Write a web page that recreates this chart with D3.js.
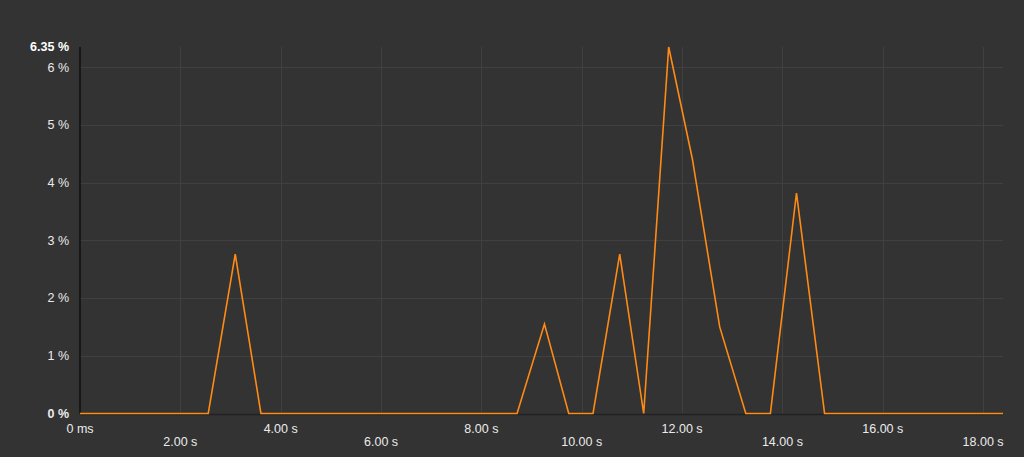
<!DOCTYPE html>
<html>
<head>
<meta charset="utf-8">
<script src="https://cdn.jsdelivr.net/npm/d3@7"></script>
<style>
html,body{margin:0;padding:0;background:#333333;}
svg{display:block;}
text{font-family:"Liberation Sans",Arial,Helvetica,sans-serif;}
</style>
</head>
<body>
<svg id="chart" width="1024" height="457"></svg>
<script>
const times = [0, 0.511, 1.022, 1.533, 2.044, 2.556, 3.094, 3.606, 4.088, 4.599, 5.110, 5.621, 6.132, 6.643, 7.154, 7.665, 8.176, 8.711, 9.257, 9.741, 10.225, 10.757, 11.235, 11.733, 12.205, 12.750, 13.270, 13.760, 14.280, 14.840, 15.330, 15.841, 16.352, 16.863, 17.374, 17.885, 18.396];
const values = [0, 0, 0, 0, 0, 0, 2.76, 0, 0, 0, 0, 0, 0, 0, 0, 0, 0, 0, 1.55, 0, 0, 2.76, 0, 6.35, 4.41, 1.50, 0, 0, 3.82, 0, 0, 0, 0, 0, 0, 0, 0];
const xTicks = [0, 2, 4, 6, 8, 10, 12, 14, 16, 18];
const xTickLabels = ["0 ms", "2.00 s", "4.00 s", "6.00 s", "8.00 s", "10.00 s", "12.00 s", "14.00 s", "16.00 s", "18.00 s"];
const yTicks = [0, 1, 2, 3, 4, 5, 6];
const yTickLabels = ["0 %", "1 %", "2 %", "3 %", "4 %", "5 %", "6 %"];
const yMax = 6.35;
const yMaxLabel = "6.35 %";

(function () {
const svg = d3.select("#chart");
const mLeft = 80, mRight = 1003, mTop = 47, mBottom = 413.5;
const x = d3.scaleLinear().domain([0, times[times.length - 1]]).range([mLeft, mRight]);
const y = d3.scaleLinear().domain([0, yMax]).range([mBottom, mTop]);

const grid = svg.append("g");
grid.selectAll("line.h").data(yTicks.slice(1)).enter().append("line")
  .attr("x1", mLeft).attr("x2", mRight)
  .attr("y1", d => Math.round(y(d)) + 0.5).attr("y2", d => Math.round(y(d)) + 0.5)
  .attr("stroke", "#404040").attr("stroke-width", 1);
grid.selectAll("line.v").data(xTicks.slice(1)).enter().append("line")
  .attr("x1", d => Math.round(x(d)) + 0.5).attr("x2", d => Math.round(x(d)) + 0.5)
  .attr("y1", mTop).attr("y2", mBottom)
  .attr("stroke", "#404040").attr("stroke-width", 1);

svg.append("line").attr("x1", mLeft).attr("x2", mRight).attr("y1", mBottom + 1).attr("y2", mBottom + 1)
  .attr("stroke", "#222").attr("stroke-width", 1.5);
svg.append("line").attr("x1", mLeft).attr("x2", mLeft).attr("y1", mTop).attr("y2", mBottom)
  .attr("stroke", "#111").attr("stroke-width", 1.5);

const yl = svg.append("g");
yl.selectAll("text").data(yTicks).enter().append("text")
  .attr("x", 69).attr("y", d => y(d)).attr("dy", "0.35em")
  .attr("text-anchor", "end").attr("fill", "#ebebeb")
  .attr("font-size", 12.5).attr("font-weight", d => d === 0 ? "bold" : "normal")
  .text((d, i) => yTickLabels[i]);
yl.append("text").attr("x", 69).attr("y", y(yMax)).attr("dy", "0.35em")
  .attr("text-anchor", "end").attr("fill", "#ffffff")
  .attr("font-size", 12.5).attr("font-weight", "bold").text(yMaxLabel);

svg.append("g").selectAll("text").data(xTicks).enter().append("text")
  .attr("x", d => x(d)).attr("y", (d, i) => i % 2 === 0 ? 433 : 446)
  .attr("text-anchor", "middle").attr("fill", "#ebebeb").attr("font-size", 12.5)
  .text((d, i) => xTickLabels[i]);

const line = d3.line().x((d, i) => x(times[i])).y(d => y(d));
svg.append("path").datum(values).attr("d", line)
  .attr("fill", "none").attr("stroke", "#ff8a14").attr("stroke-width", 1.6)
  .attr("stroke-linejoin", "miter");
})();
</script>
</body>
</html>
